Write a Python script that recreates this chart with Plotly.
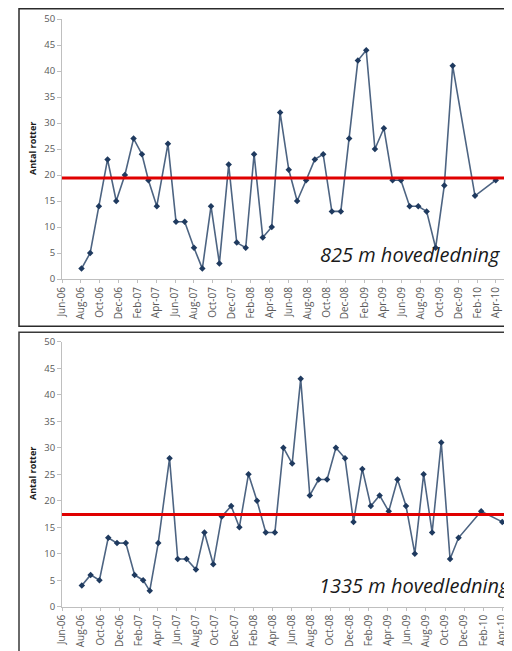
import plotly.graph_objects as go

# Measurement dates (shared by both panels)
dates = [
    "2006-08-03", "2006-08-31", "2006-09-28", "2006-10-26", "2006-11-23", "2006-12-21",
    "2007-01-18", "2007-02-14", "2007-03-07", "2007-04-03", "2007-05-09", "2007-06-04",
    "2007-07-02", "2007-08-01", "2007-08-28", "2007-09-25", "2007-10-22", "2007-11-21",
    "2007-12-17", "2008-01-15", "2008-02-11", "2008-03-10", "2008-04-08", "2008-05-05",
    "2008-06-02", "2008-06-29", "2008-07-28", "2008-08-25", "2008-09-21", "2008-10-19",
    "2008-11-17", "2008-12-14", "2009-01-11", "2009-02-07", "2009-03-07", "2009-04-05",
    "2009-05-03", "2009-05-30", "2009-06-27", "2009-07-25", "2009-08-21", "2009-09-19",
    "2009-10-17", "2009-11-13", "2010-01-24", "2010-04-01",
]

rotter_825 = [2, 5, 14, 23, 15, 20, 27, 24, 19, 14,
              26, 11, 11, 6, 2, 14, 3, 22, 7, 6,
              24, 8, 10, 32, 21, 15, 19, 23, 24, 13,
              13, 27, 42, 44, 25, 29, 19, 19, 14, 14,
              13, 6, 18, 41, 16, 19]

rotter_1335 = [4, 6, 5, 13, 12, 12, 6, 5, 3, 12,
               28, 9, 9, 7, 14, 8, 17, 19, 15, 25,
               20, 14, 14, 30, 27, 43, 21, 24, 24, 30,
               28, 16, 26, 19, 21, 18, 24, 19, 10, 25,
               14, 31, 9, 13, 18, 16]

mean_825 = 19.4
mean_1335 = 17.4

label_825 = "825 m hovedledning"
label_1335 = "1335 m hovedledning"
y_title = "Antal rotter"

# page has an 8px body margin: figure is sized to end exactly at the window edge
OFF = 8
W, H = 512 - OFF, 651 - OFF
FONT = "Open Sans"
LINE_COLOR = "#4d6482"
MARK_COLOR = "#1f3a5f"
AXIS_COLOR = "#bfbfbf"
XTICK_FONT = dict(family=FONT, size=10, color="#595959")
YTICK_FONT = dict(family=FONT, size=9.5, color="#595959")


def px(x):
    """page pixel x -> paper fraction"""
    return (x - OFF) / W


def py(y):
    """page pixel y -> paper fraction"""
    return 1 - (y - OFF) / H


fig = go.Figure()

fig.add_trace(go.Scatter(
    x=dates, y=rotter_825, mode="lines+markers",
    line=dict(color=LINE_COLOR, width=1.6),
    marker=dict(symbol="diamond", size=5, color=MARK_COLOR),
    xaxis="x", yaxis="y", showlegend=False, cliponaxis=False,
))
fig.add_trace(go.Scatter(
    x=dates, y=rotter_1335, mode="lines+markers",
    line=dict(color=LINE_COLOR, width=1.6),
    marker=dict(symbol="diamond", size=5, color=MARK_COLOR),
    xaxis="x2", yaxis="y2", showlegend=False, cliponaxis=False,
))

xcommon = dict(
    type="date", tickformat="%b-%y", dtick="M2", tick0="2006-06-01",
    tickangle=-90, tickfont=XTICK_FONT, showgrid=False, zeroline=False,
    showline=True, linecolor=AXIS_COLOR, linewidth=1,
    ticks="outside", ticklen=3, tickcolor=AXIS_COLOR, automargin=False,
)
ycommon = dict(
    range=[0, 50], dtick=5, tickfont=YTICK_FONT, showgrid=False, zeroline=False,
    showline=True, linecolor=AXIS_COLOR, linewidth=1,
    ticks="outside", ticklen=4, tickcolor=AXIS_COLOR, automargin=False,
)

fig.update_layout(
    width=W, height=H,
    margin=dict(l=0, r=0, t=0, b=0, pad=0, autoexpand=False),
    paper_bgcolor="white", plot_bgcolor="white",
    xaxis=dict(xcommon, domain=[px(62), 1], range=["2006-06-01", "2010-05-23 12:00"],
               anchor="y"),
    yaxis=dict(ycommon, domain=[py(279), py(19)], anchor="x"),
    xaxis2=dict(xcommon, domain=[px(62), 1], range=["2006-06-01", "2010-05-02"],
                anchor="y2"),
    yaxis2=dict(ycommon, domain=[py(606.7), py(341.7)], anchor="x2"),
    shapes=[
        dict(type="line", xref="x domain", yref="y", x0=0, x1=1,
             y0=mean_825, y1=mean_825, line=dict(color="#e00000", width=3)),
        dict(type="line", xref="x2 domain", yref="y2", x0=0, x1=1,
             y0=mean_1335, y1=mean_1335, line=dict(color="#e00000", width=3)),
        dict(type="rect", xref="paper", yref="paper",
             x0=px(19), x1=px(530), y0=py(326.3), y1=py(8.8),
             line=dict(color="#2b2b2b", width=1.5), layer="below"),
        dict(type="rect", xref="paper", yref="paper",
             x0=px(19), x1=px(530), y0=py(670), y1=py(332.3),
             line=dict(color="#3a3a3a", width=1.5), layer="below"),
    ],
    annotations=[
        dict(text=label_825, xref="paper", yref="paper", x=px(502), y=py(255),
             xanchor="right", yanchor="middle", showarrow=False,
             font=dict(family=FONT, size=20, color="#1a1a1a", style="italic")),
        dict(text=label_1335, xref="paper", yref="paper", x=px(316.7), y=py(585),
             xanchor="left", yanchor="middle", showarrow=False,
             font=dict(family=FONT, size=20, color="#1a1a1a", style="italic")),
        dict(text=y_title, xref="paper", yref="paper", x=px(32), y=py(149),
             xanchor="center", yanchor="middle", showarrow=False, textangle=-90,
             font=dict(family=FONT, size=9, color="#1a1a1a", weight="bold")),
        dict(text=y_title, xref="paper", yref="paper", x=px(32), y=py(474),
             xanchor="center", yanchor="middle", showarrow=False, textangle=-90,
             font=dict(family=FONT, size=9, color="#1a1a1a", weight="bold")),
    ],
)

fig.write_html("out.html")
